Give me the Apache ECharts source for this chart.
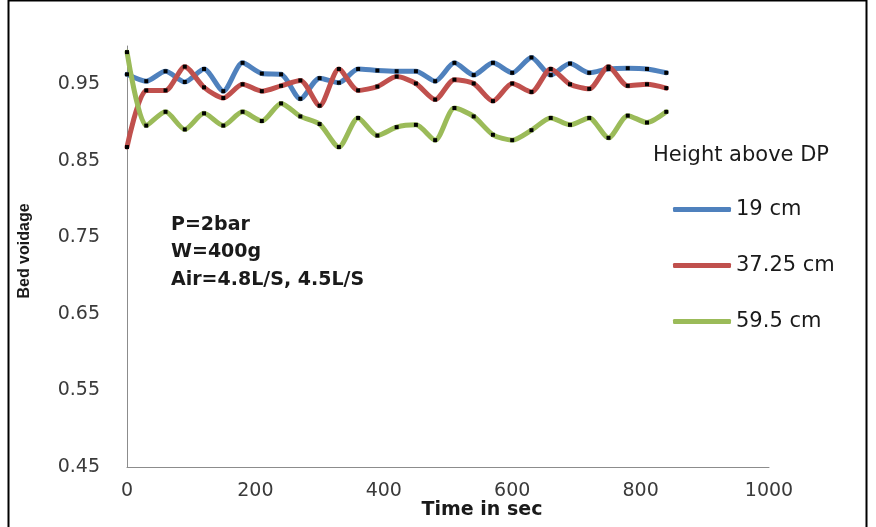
<!DOCTYPE html>
<html>
<head>
<meta charset="utf-8">
<script src="https://cdn.jsdelivr.net/npm/echarts/dist/echarts.min.js"></script>
<style>
html,body{margin:0;padding:0;background:#fff;}
#chart{width:876px;height:527px;}
</style>
</head>
<body>
<div id="chart"></div>
<script>
var times = [0,30,60,90,120,150,180,210,240,270,300,330,360,390,420,450,480,510,540,570,600,630,660,690,720,750,780,810,840];
var h19 = [0.963,0.954,0.967,0.953,0.970,0.941,0.978,0.964,0.963,0.931,0.958,0.952,0.970,0.968,0.967,0.967,0.954,0.978,0.962,0.978,0.965,0.985,0.962,0.977,0.965,0.970,0.971,0.970,0.965];
var h3725 = [0.868,0.942,0.942,0.973,0.946,0.932,0.950,0.941,0.948,0.955,0.922,0.970,0.942,0.947,0.960,0.951,0.930,0.956,0.951,0.928,0.951,0.940,0.970,0.950,0.944,0.973,0.948,0.950,0.945];
var h595 = [0.992,0.896,0.914,0.891,0.912,0.896,0.914,0.902,0.925,0.908,0.898,0.868,0.906,0.883,0.894,0.897,0.877,0.919,0.908,0.884,0.877,0.890,0.906,0.897,0.906,0.880,0.909,0.900,0.914];
var seriesNames = ['19 cm','37.25 cm','59.5 cm'];
var seriesColors = ['#4F81BD','#C0504D','#9BBB59'];
var yTickValues = [0.45,0.55,0.65,0.75,0.85,0.95];
var xTickValues = [0,200,400,600,800,1000];
var annotations = ['P=2bar','W=400g','Air=4.8L/S, 4.5L/S'];

function pairs(vals){ return times.map(function(t,i){ return [t, vals[i]]; }); }
var allVals = [h19, h3725, h595];

var chart = echarts.init(document.getElementById('chart'));
var series = allVals.map(function(v, k){
  return {
    name: seriesNames[k],
    type: 'line',
    data: pairs(v),
    smooth: 0.25,
    symbol: 'rect',
    symbolSize: 4,
    showSymbol: true,
    lineStyle: {color: seriesColors[k], width: 5, cap: 'round', join: 'round'},
    itemStyle: {color: '#000'},
    emphasis: {disabled: true},
    animation: false
  };
});

var option = {
  animation: false,
  backgroundColor: '#fff',
  grid: {left: 127, right: 107, top: 46, bottom: 60, containLabel: false},
  xAxis: {
    type: 'value', min: 0, max: 1000, interval: 200,
    axisLine: {show: true, lineStyle: {color: '#8c8c8c', width: 1}},
    axisTick: {show: false},
    splitLine: {show: false},
    axisLabel: {margin: 15, color: '#3a3a3a', fontFamily: 'DejaVu Sans', fontSize: 19,
      customValues: xTickValues,
      formatter: function(v){ return String(v); }}
  },
  yAxis: {
    type: 'value', min: 0.45, max: 1.0,
    axisLine: {show: true, onZero: false, lineStyle: {color: '#8c8c8c', width: 1}},
    axisTick: {show: false},
    splitLine: {show: false},
    axisLabel: {margin: 27, color: '#3a3a3a', fontFamily: 'DejaVu Sans', fontSize: 19,
      customValues: yTickValues,
      formatter: function(v){ return v.toFixed(2); }}
  },
  legend: {
    orient: 'vertical',
    left: 668, top: 194,
    itemWidth: 58, itemHeight: 5,
    itemGap: 35,
    selectedMode: false,
    textStyle: {fontFamily: 'DejaVu Sans', fontSize: 21, color: '#1a1a1a', lineHeight: 21},
    data: seriesNames.map(function(n,k){
      return {name: n, icon: 'roundRect', itemStyle: {color: seriesColors[k]}};
    })
  },
  graphic: [
    {type: 'rect', shape: {x: 8.5, y: 0.5, width: 858, height: 540}, style: {fill: 'none', stroke: '#000', lineWidth: 2}, silent: true},
    {type: 'text', left: 653, top: 145, style: {text: 'Height above DP', font: '21px "DejaVu Sans"', fill: '#1a1a1a'}},
    {type: 'text', x: 171, y: 225, style: {text: annotations[0], font: 'bold 19px "DejaVu Sans"', fill: '#1a1a1a', verticalAlign: 'middle'}},
    {type: 'text', x: 171, y: 252, style: {text: annotations[1], font: 'bold 19px "DejaVu Sans"', fill: '#1a1a1a', verticalAlign: 'middle'}},
    {type: 'text', x: 171, y: 280, style: {text: annotations[2], font: 'bold 19px "DejaVu Sans"', fill: '#1a1a1a', verticalAlign: 'middle'}},
    {type: 'text', x: 482, y: 510, style: {text: 'Time in sec', font: 'bold 19px "DejaVu Sans"', fill: '#1a1a1a', align: 'center', verticalAlign: 'middle'}},
    {type: 'text', x: 25, y: 251, rotation: Math.PI/2, style: {text: 'Bed voidage', font: 'bold 16px "Liberation Sans"', fill: '#1a1a1a', align: 'center', verticalAlign: 'middle'}}
  ],
  series: series
};
chart.setOption(option);
</script>
</body>
</html>
